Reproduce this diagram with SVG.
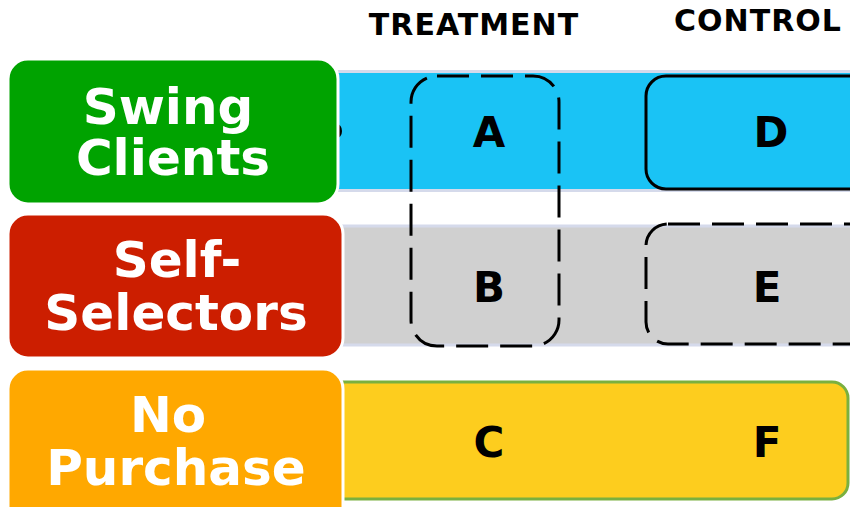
<svg xmlns="http://www.w3.org/2000/svg" width="850" height="507" viewBox="0 0 850 507">
<style>
.hdr{font-family:"DejaVu Sans",Verdana,sans-serif;font-weight:bold;font-size:30px;letter-spacing:1px;fill:#000;text-anchor:middle}
.lbl{font-family:"DejaVu Sans",Verdana,sans-serif;font-weight:bold;font-size:50px;fill:#fff;text-anchor:middle}
.cell{font-family:"DejaVu Sans",Verdana,sans-serif;font-weight:bold;font-size:42px;fill:#000;text-anchor:middle}
.band{stroke:#D5DAEB;stroke-width:3}
.dash{fill:none;stroke:#000;stroke-width:3;stroke-dasharray:32 12}
.cat{stroke:#fff;stroke-width:3}
</style>
<rect width="850" height="507" fill="#fff"/>
<g id="headers">
<text class="hdr" x="474" y="35">TREATMENT</text>
<text class="hdr" x="758" y="31">CONTROL</text>
</g>
<g id="band-swing">
<rect class="band" x="320" y="71.5" width="545" height="119" rx="12" fill="#1AC3F5"/>
</g>
<g id="band-self">
<rect class="band" x="320" y="226" width="545" height="119" rx="12" fill="#D0D0D0"/>
</g>
<g id="band-none">
<rect x="320" y="382" width="528" height="117" rx="16" fill="#FDCD1E" stroke="#7AB03F" stroke-width="3"/>
</g>
<ellipse cx="337" cy="131" rx="5" ry="7" fill="#000"/>
<g id="cell-D">
<rect x="646" y="76" width="224" height="113" rx="20" fill="none" stroke="#000" stroke-width="3"/>
</g>
<g id="cell-E">
<rect class="dash" x="646" y="224" width="224" height="120" rx="22"/>
</g>
<g id="cell-AB">
<rect class="dash" x="411" y="76" width="148" height="270" rx="26"/>
</g>
<g id="cat-swing">
<rect class="cat" x="8" y="59" width="330" height="145" rx="20" fill="#00A300"/>
<text class="lbl" x="168" y="124">Swing</text>
<text class="lbl" x="173" y="175">Clients</text>
</g>
<g id="cat-self">
<rect class="cat" x="8" y="214" width="335" height="144" rx="20" fill="#CC1E00"/>
<text class="lbl" x="177" y="277">Self-</text>
<text class="lbl" x="176" y="330">Selectors</text>
</g>
<g id="cat-none">
<rect class="cat" x="8" y="369" width="335" height="160" rx="20" fill="#FFA800"/>
<text class="lbl" x="168" y="432">No</text>
<text class="lbl" x="176" y="485">Purchase</text>
</g>
<g id="cell-labels">
<text class="cell" x="489" y="147">A</text>
<text class="cell" x="771" y="147">D</text>
<text class="cell" x="489" y="302">B</text>
<text class="cell" x="767" y="302">E</text>
<text class="cell" x="489" y="457">C</text>
<text class="cell" x="767" y="457">F</text>
</g>
<g id="connectors"/>
</svg>
